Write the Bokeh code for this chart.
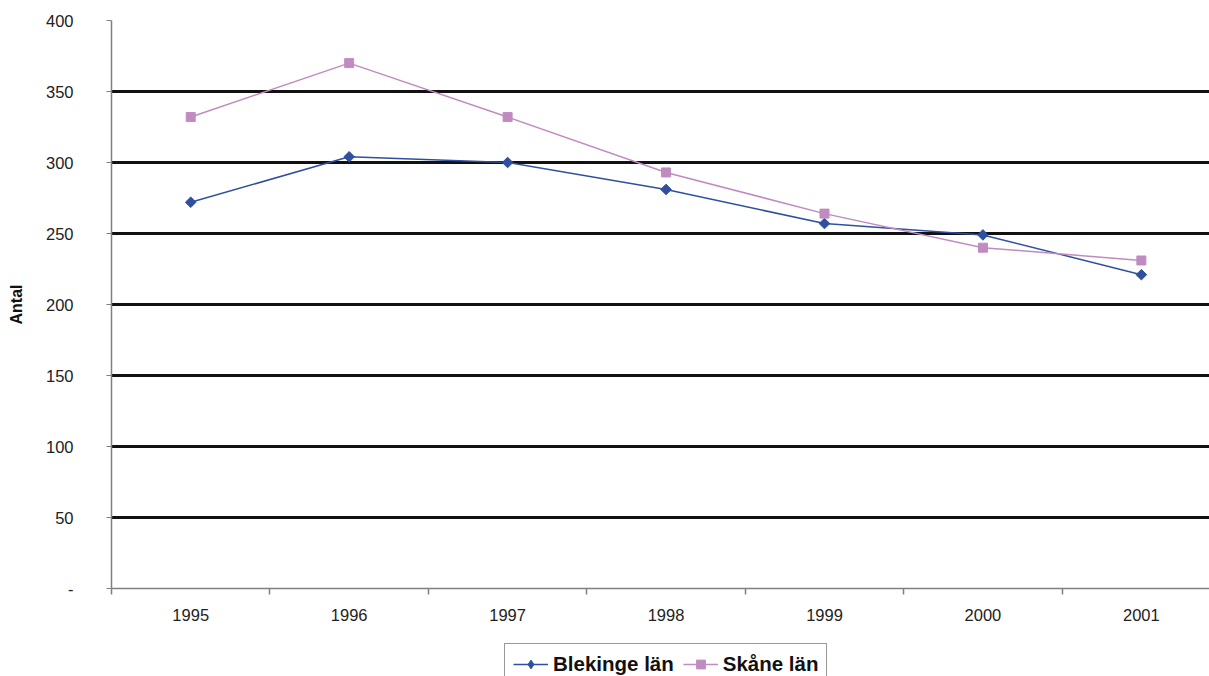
import math
from bokeh.plotting import figure
from bokeh.layouts import column
from bokeh.models import Range1d, FixedTicker, Legend, LegendItem
from bokeh.embed import file_html
from bokeh.resources import INLINE

years = ["1995", "1996", "1997", "1998", "1999", "2000", "2001"]
blekinge = [272, 304, 300, 281, 257, 249, 221]
skane = [332, 370, 332, 293, 264, 240, 231]
y_ticks = [0, 50, 100, 150, 200, 250, 300, 350, 400]
series_names = ["Blekinge län", "Skåne län"]

xs = [i + 0.5 for i in range(len(years))]

FONT = "Liberation Sans"
BLUE = "#2F4F9F"
PINK = "#C08CC0"

p = figure(width=1209, height=640, output_backend="svg", toolbar_location=None,
           x_range=Range1d(0, 6.93), y_range=Range1d(0, 400),
           min_border_left=111, min_border_right=0, min_border_top=20,
           min_border_bottom=52)
p.outline_line_color = None
p.background_fill_color = "white"
p.border_fill_color = "white"

# x axis
p.xaxis.ticker = FixedTicker(ticks=xs, minor_ticks=list(range(len(years) + 1)))
p.xaxis.major_label_overrides = {x: y for x, y in zip(xs, years)}
p.xaxis.major_tick_line_color = None
p.xaxis.major_tick_out = 0
p.xaxis.major_tick_in = 0
p.xaxis.minor_tick_line_color = "#808080"
p.xaxis.minor_tick_out = 6
p.xaxis.minor_tick_in = 0
p.xaxis.minor_tick_line_width = 1.5
p.xaxis.axis_line_color = "#808080"
p.xaxis.axis_line_width = 1.5
p.xaxis.major_label_text_font = FONT
p.xaxis.major_label_text_font_size = "16.5px"
p.xaxis.major_label_text_color = "#222222"
p.xaxis.major_label_standoff = 14

# y axis
p.yaxis.ticker = FixedTicker(ticks=y_ticks)
p.yaxis.major_label_overrides = {0: "-"}
p.yaxis.major_tick_line_color = "#808080"
p.yaxis.major_tick_out = 5
p.yaxis.major_tick_in = 0
p.yaxis.minor_tick_line_color = None
p.yaxis.axis_line_color = "#808080"
p.yaxis.axis_line_width = 1.5
p.yaxis.major_label_text_font = FONT
p.yaxis.major_label_text_font_size = "16.5px"
p.yaxis.major_label_text_color = "#222222"
p.yaxis.major_label_standoff = 33
p.yaxis.axis_label = "Antal"
p.yaxis.axis_label_text_font = FONT
p.yaxis.axis_label_text_font_size = "16px"
p.yaxis.axis_label_text_font_style = "bold"
p.yaxis.axis_label_text_color = "#111111"
p.yaxis.axis_label_standoff = 18

# grid
p.xgrid.grid_line_color = None
p.ygrid.ticker = FixedTicker(ticks=y_ticks[1:])
p.ygrid.grid_line_color = "#111111"
p.ygrid.grid_line_width = 3

p.line(xs, blekinge, line_color=BLUE, line_width=1.5)
p.scatter(xs, blekinge, marker="square", size=7.5, angle=math.pi / 4,
          fill_color=BLUE, line_color=BLUE)
p.line(xs, skane, line_color=PINK, line_width=1.5)
p.scatter(xs, skane, marker="square", size=9, fill_color=PINK, line_color=PINK)

# legend strip below the chart (its renderers sit outside the visible range)
lg = figure(width=1209, height=36, output_backend="svg", toolbar_location=None,
            x_range=Range1d(0, 1), y_range=Range1d(0, 1),
            min_border_left=111, min_border_right=0, min_border_top=0,
            min_border_bottom=0)
lg.axis.visible = False
lg.grid.visible = False
lg.outline_line_color = None
lg.border_fill_color = "white"
off = [-10, -9]
a1 = lg.line(off, off, line_color=BLUE, line_width=1.5)
b1 = lg.scatter(off, off, marker="diamond", size=14, fill_color=BLUE, line_color=BLUE)
a2 = lg.line(off, off, line_color=PINK, line_width=1.5)
b2 = lg.scatter(off, off, marker="square", size=9, fill_color=PINK, line_color=PINK)

legend = Legend(items=[LegendItem(label=series_names[0], renderers=[a1, b1]),
                       LegendItem(label=series_names[1], renderers=[a2, b2])],
                orientation="horizontal", location=(393, -9))
legend.label_text_font = FONT
legend.label_text_font_size = "20.5px"
legend.label_text_font_style = "bold"
legend.label_text_color = "#111111"
legend.border_line_color = "#333333"
legend.border_line_width = 1
legend.glyph_width = 35
legend.glyph_height = 22
legend.label_standoff = 5
legend.spacing = 9
legend.padding = 8
legend.margin = 0
legend.background_fill_alpha = 1
lg.add_layout(legend, "center")

layout = column(p, lg, spacing=0)
open("out.html", "w").write(file_html(layout, INLINE))
